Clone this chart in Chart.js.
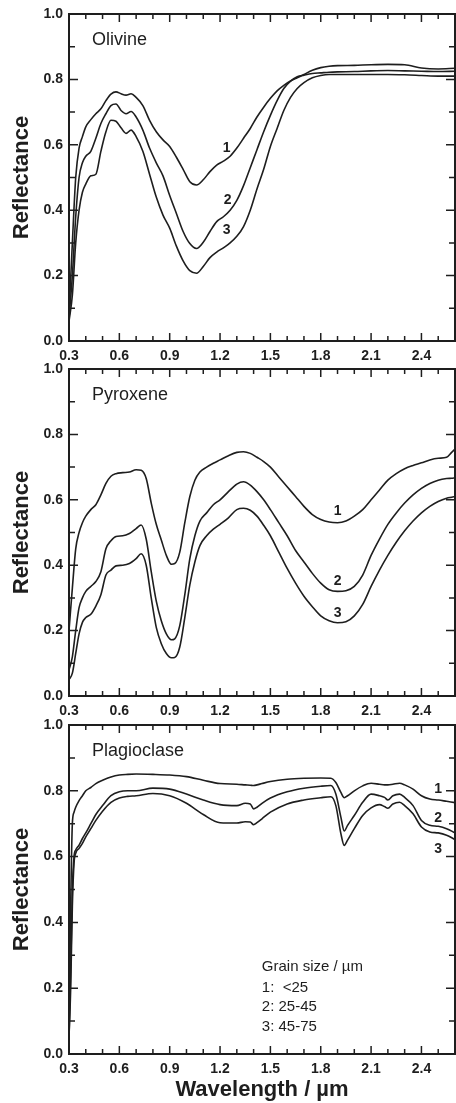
<!DOCTYPE html>
<html>
<head>
<meta charset="utf-8">
<script src="https://cdn.jsdelivr.net/npm/chart.js@4"></script>
<style>
  html, body { margin: 0; padding: 0; background: #fff; overflow: hidden; }
  #wrap { position: relative; width: 456px; height: 1103px; }
  canvas { position: absolute; left: 0; top: 0; }
</style>
</head>
<body>
<div id="wrap">
  <canvas id="olivine" width="456" height="1103"></canvas>
  <canvas id="pyroxene" width="456" height="1103"></canvas>
  <canvas id="plagioclase" width="456" height="1103"></canvas>
</div>
<script>
// wavelengths (µm) and reflectance for each grain size: 1 <25, 2 25-45, 3 45-75
const olivineWl = [0.30, 0.32, 0.34, 0.36, 0.38, 0.40, 0.43, 0.46, 0.49, 0.52, 0.55, 0.58, 0.61, 0.64, 0.67, 0.70, 0.74, 0.78, 0.82, 0.86, 0.90, 0.94, 0.98, 1.02, 1.06, 1.10, 1.14, 1.18, 1.22, 1.26, 1.30, 1.34, 1.38, 1.42, 1.46, 1.50, 1.54, 1.58, 1.62, 1.66, 1.70, 1.75, 1.80, 1.85, 1.90, 2.00, 2.10, 2.20, 2.30, 2.40, 2.50, 2.60];
const olivine1 = [0.08, 0.30, 0.50, 0.59, 0.625, 0.655, 0.677, 0.695, 0.71, 0.735, 0.755, 0.762, 0.756, 0.752, 0.756, 0.745, 0.72, 0.675, 0.64, 0.615, 0.595, 0.562, 0.525, 0.487, 0.477, 0.493, 0.518, 0.538, 0.55, 0.565, 0.59, 0.62, 0.65, 0.685, 0.715, 0.742, 0.765, 0.782, 0.795, 0.805, 0.815, 0.828, 0.836, 0.84, 0.842, 0.843, 0.845, 0.846, 0.845, 0.835, 0.832, 0.834];
const olivine2 = [0.07, 0.20, 0.38, 0.50, 0.545, 0.565, 0.58, 0.62, 0.665, 0.695, 0.72, 0.725, 0.705, 0.695, 0.702, 0.685, 0.645, 0.59, 0.545, 0.505, 0.445, 0.39, 0.335, 0.298, 0.283, 0.302, 0.335, 0.365, 0.38, 0.40, 0.43, 0.475, 0.53, 0.585, 0.64, 0.69, 0.735, 0.772, 0.795, 0.808, 0.813, 0.818, 0.82, 0.822, 0.823, 0.824, 0.826, 0.827, 0.826, 0.825, 0.824, 0.825];
const olivine3 = [0.06, 0.14, 0.30, 0.40, 0.455, 0.48, 0.505, 0.51, 0.58, 0.64, 0.675, 0.672, 0.652, 0.635, 0.645, 0.625, 0.58, 0.51, 0.44, 0.385, 0.345, 0.29, 0.245, 0.215, 0.207, 0.228, 0.255, 0.272, 0.285, 0.30, 0.32, 0.35, 0.40, 0.465, 0.525, 0.595, 0.65, 0.705, 0.745, 0.772, 0.79, 0.805, 0.812, 0.815, 0.815, 0.815, 0.815, 0.815, 0.814, 0.812, 0.81, 0.81];

const pyroxeneWl = [0.30, 0.32, 0.34, 0.36, 0.38, 0.40, 0.43, 0.46, 0.49, 0.52, 0.55, 0.58, 0.62, 0.66, 0.70, 0.73, 0.76, 0.79, 0.82, 0.85, 0.88, 0.91, 0.93, 0.96, 0.99, 1.02, 1.05, 1.08, 1.12, 1.16, 1.20, 1.25, 1.30, 1.34, 1.38, 1.42, 1.46, 1.50, 1.55, 1.60, 1.65, 1.70, 1.75, 1.80, 1.85, 1.90, 1.95, 2.00, 2.05, 2.10, 2.15, 2.20, 2.25, 2.30, 2.35, 2.40, 2.45, 2.50, 2.55, 2.58, 2.60];
const pyroxene1 = [0.20, 0.33, 0.45, 0.50, 0.53, 0.55, 0.57, 0.585, 0.615, 0.65, 0.672, 0.68, 0.683, 0.685, 0.692, 0.69, 0.665, 0.59, 0.525, 0.477, 0.43, 0.403, 0.405, 0.44, 0.53, 0.61, 0.66, 0.685, 0.70, 0.712, 0.722, 0.735, 0.745, 0.747, 0.742, 0.73, 0.717, 0.70, 0.67, 0.64, 0.61, 0.58, 0.555, 0.54, 0.532, 0.53, 0.535, 0.55, 0.57, 0.60, 0.63, 0.66, 0.68, 0.695, 0.705, 0.713, 0.722, 0.727, 0.73, 0.745, 0.755];
const pyroxene2 = [0.08, 0.12, 0.20, 0.27, 0.30, 0.32, 0.335, 0.35, 0.38, 0.45, 0.475, 0.488, 0.49, 0.497, 0.512, 0.523, 0.48, 0.38, 0.29, 0.23, 0.19, 0.172, 0.175, 0.215, 0.31, 0.42, 0.49, 0.535, 0.56, 0.585, 0.60, 0.625, 0.648, 0.655, 0.645, 0.625, 0.60, 0.57, 0.53, 0.49, 0.445, 0.41, 0.375, 0.345, 0.325, 0.32, 0.322, 0.335, 0.37, 0.43, 0.48, 0.525, 0.56, 0.59, 0.615, 0.635, 0.65, 0.66, 0.665, 0.666, 0.667];
const pyroxene3 = [0.05, 0.07, 0.13, 0.19, 0.225, 0.24, 0.25, 0.275, 0.31, 0.37, 0.385, 0.398, 0.40, 0.405, 0.42, 0.435, 0.40, 0.30, 0.21, 0.16, 0.13, 0.117, 0.118, 0.15, 0.24, 0.34, 0.41, 0.46, 0.49, 0.51, 0.525, 0.545, 0.57, 0.574, 0.568, 0.55, 0.522, 0.49, 0.44, 0.39, 0.345, 0.305, 0.273, 0.245, 0.23, 0.224, 0.227, 0.245, 0.28, 0.335, 0.385, 0.43, 0.47, 0.505, 0.535, 0.56, 0.58, 0.595, 0.605, 0.608, 0.61];

const plagioclaseWl = [0.30, 0.31, 0.32, 0.33, 0.34, 0.36, 0.38, 0.40, 0.43, 0.46, 0.50, 0.55, 0.60, 0.65, 0.70, 0.80, 0.90, 1.00, 1.10, 1.20, 1.30, 1.35, 1.38, 1.40, 1.42, 1.45, 1.50, 1.60, 1.70, 1.80, 1.86, 1.89, 1.92, 1.94, 1.96, 2.00, 2.05, 2.10, 2.15, 2.18, 2.20, 2.23, 2.27, 2.30, 2.35, 2.40, 2.45, 2.50, 2.55, 2.60];
const plagioclase1 = [0.05, 0.45, 0.70, 0.735, 0.75, 0.77, 0.785, 0.80, 0.81, 0.822, 0.832, 0.842, 0.848, 0.85, 0.851, 0.85, 0.848, 0.843, 0.832, 0.822, 0.82, 0.818, 0.817, 0.816, 0.818, 0.822, 0.828, 0.835, 0.838, 0.839, 0.838, 0.825, 0.795, 0.779, 0.785, 0.80, 0.815, 0.823, 0.82, 0.818, 0.818, 0.82, 0.823, 0.818, 0.805, 0.785, 0.775, 0.772, 0.768, 0.764];
const plagioclase2 = [0.05, 0.25, 0.50, 0.60, 0.62, 0.635, 0.655, 0.672, 0.70, 0.728, 0.755, 0.785, 0.797, 0.80, 0.80, 0.808, 0.805, 0.79, 0.772, 0.758, 0.755, 0.762, 0.76, 0.745, 0.75, 0.762, 0.778, 0.797, 0.808, 0.814, 0.816, 0.79, 0.72, 0.678, 0.695, 0.725, 0.765, 0.79, 0.785, 0.78, 0.772, 0.785, 0.79, 0.78, 0.755, 0.71, 0.695, 0.692, 0.685, 0.672];
const plagioclase3 = [0.05, 0.20, 0.45, 0.58, 0.61, 0.625, 0.64, 0.66, 0.685, 0.71, 0.738, 0.765, 0.778, 0.783, 0.785, 0.792, 0.785, 0.762, 0.728, 0.703, 0.702, 0.706, 0.705, 0.697, 0.703, 0.715, 0.735, 0.76, 0.772, 0.779, 0.782, 0.755, 0.67, 0.634, 0.65, 0.685, 0.725, 0.748, 0.758, 0.752, 0.747, 0.76, 0.765, 0.755, 0.73, 0.69, 0.675, 0.672, 0.665, 0.652];

const legendLines = ['Grain size / µm', '1:  <25', '2: 25-45', '3: 45-75'];

const INK = '#1e1e1e';
const FONT = '"Liberation Sans", Arial, Helvetica, sans-serif';

// frame, inward ticks and text annotations
const framePlugin = {
    id: 'frame',
    afterDraw(chart) {
        const ctx = chart.ctx;
        const a = chart.chartArea;
        const x = chart.scales.x;
        const y = chart.scales.y;
        const o = chart.options.plugins.frame;
        ctx.save();
        ctx.strokeStyle = INK;
        ctx.lineWidth = 2;
        ctx.strokeRect(a.left, a.top, a.right - a.left, a.bottom - a.top);

        ctx.lineWidth = 1.5;
        ctx.beginPath();
        x.ticks.forEach(t => {
            const px = x.getPixelForValue(t.value);
            const len = t.label ? 8 : 5;
            ctx.moveTo(px, a.bottom); ctx.lineTo(px, a.bottom - len);
            ctx.moveTo(px, a.top); ctx.lineTo(px, a.top + len);
        });
        y.ticks.forEach(t => {
            const py = y.getPixelForValue(t.value);
            const len = t.label ? 9 : 6;
            ctx.moveTo(a.left, py); ctx.lineTo(a.left + len, py);
            ctx.moveTo(a.right, py); ctx.lineTo(a.right - len, py);
        });
        ctx.stroke();

        ctx.fillStyle = INK;
        ctx.textBaseline = 'middle';
        ctx.textAlign = 'left';
        ctx.font = '18px ' + FONT;
        ctx.fillText(o.name, a.left + 23, y.getPixelForValue(0.92));

        ctx.textAlign = 'center';
        ctx.font = 'bold 14px ' + FONT;
        o.marks.forEach(m => {
            ctx.fillText(m[0], x.getPixelForValue(m[1]), y.getPixelForValue(m[2]));
        });

        if (o.legend) {
            ctx.textAlign = 'left';
            ctx.font = '15px ' + FONT;
            const ly = [0.266, 0.201, 0.144, 0.084];
            legendLines.forEach((s, i) => {
                ctx.fillText(s, x.getPixelForValue(1.449), y.getPixelForValue(ly[i]));
            });
        }
        ctx.restore();
    }
};

function makePanel(id, wl, series, opt) {
    const datasets = series.map(r => ({
        data: wl.map((w, i) => ({ x: w, y: r[i] })),
        borderColor: INK,
        borderWidth: 1.6,
        pointRadius: 0,
        fill: false,
        cubicInterpolationMode: 'monotone'
    }));
    const tickFont = { family: FONT, size: 14, weight: 'bold' };
    return new Chart(document.getElementById(id), {
        type: 'line',
        data: { datasets: datasets },
        options: {
            responsive: false,
            animation: false,
            events: [],
            layout: { padding: { top: opt.top, bottom: opt.bottom, left: 0, right: 1 } },
            plugins: {
                legend: { display: false },
                tooltip: { enabled: false },
                frame: { name: opt.name, marks: opt.marks, legend: opt.legend }
            },
            scales: {
                x: {
                    type: 'linear',
                    min: 0.3,
                    max: 2.6,
                    grid: { display: false, drawTicks: false },
                    border: { display: false },
                    afterFit: s => { s.height = opt.xHeight; s.paddingLeft = 0; s.paddingRight = 0; },
                    ticks: {
                        stepSize: 0.1,
                        autoSkip: false,
                        maxRotation: 0,
                        padding: 7,
                        color: INK,
                        font: tickFont,
                        callback: v => (Math.round(v * 10) % 3 === 0 ? v.toFixed(1) : '')
                    },
                    title: {
                        display: !!opt.legend,
                        text: 'Wavelength / µm',
                        color: INK,
                        padding: { top: 0, bottom: 0 },
                        font: { family: FONT, size: 22, weight: 'bold' }
                    }
                },
                y: {
                    min: 0,
                    max: 1,
                    grid: { display: false, drawTicks: false },
                    border: { display: false },
                    afterFit: s => { s.width = 69; s.paddingTop = 0; s.paddingBottom = 0; },
                    ticks: {
                        stepSize: 0.1,
                        autoSkip: false,
                        padding: 6,
                        color: INK,
                        font: tickFont,
                        callback: v => (Math.round(v * 10) % 2 === 0 ? v.toFixed(1) : '')
                    },
                    title: {
                        display: true,
                        text: 'Reflectance',
                        color: INK,
                        padding: { top: 9, bottom: 0 },
                        font: { family: FONT, size: 22, weight: 'bold' }
                    }
                }
            }
        },
        plugins: [framePlugin]
    });
}

makePanel('olivine', olivineWl, [olivine1, olivine2, olivine3], {
    name: 'Olivine', top: 14, bottom: 741, xHeight: 21,
    marks: [['1', 1.24, 0.59], ['2', 1.245, 0.43], ['3', 1.24, 0.34]]
});
makePanel('pyroxene', pyroxeneWl, [pyroxene1, pyroxene2, pyroxene3], {
    name: 'Pyroxene', top: 369, bottom: 386, xHeight: 21,
    marks: [['1', 1.90, 0.565], ['2', 1.90, 0.35], ['3', 1.90, 0.252]]
});
makePanel('plagioclase', plagioclaseWl, [plagioclase1, plagioclase2, plagioclase3], {
    name: 'Plagioclase', top: 725, bottom: 0, xHeight: 49, legend: true,
    marks: [['1', 2.50, 0.804], ['2', 2.50, 0.718], ['3', 2.50, 0.624]]
});
</script>
</body>
</html>
